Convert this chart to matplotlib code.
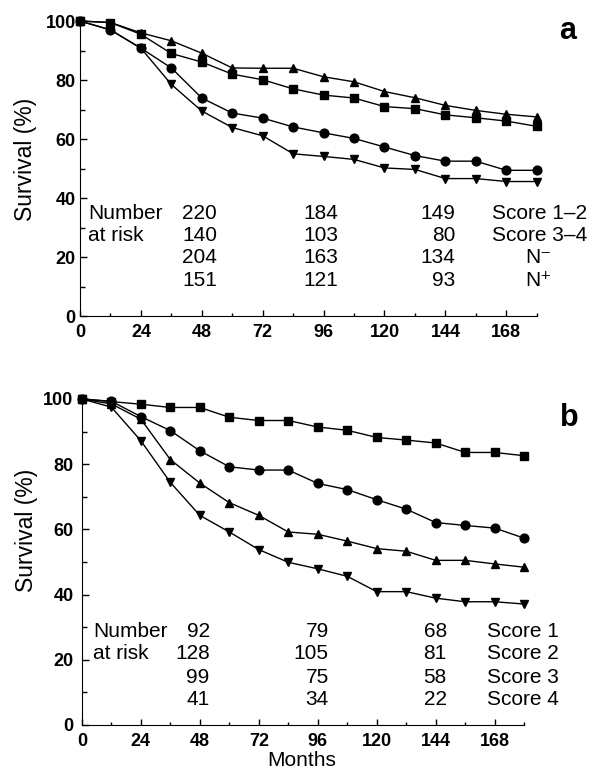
import matplotlib
matplotlib.use("Agg")
import matplotlib.pyplot as plt
import numpy as np

plt.rcParams['font.family'] = ['Liberation Sans', 'DejaVu Sans']

# %%
# data (months every 12)
months = [0, 12, 24, 36, 48, 60, 72, 84, 96, 108, 120, 132, 144, 156, 168, 180]

# panel a
a_tri_up = [100, 99.5, 96, 93.3, 89.1, 84.1, 84, 84, 81.1, 79.4, 76.1, 74, 71.4, 69.7, 68.4, 67.5]
a_square = [100, 99.5, 95.5, 89, 86.1, 82, 80.1, 77, 74.9, 73.9, 71, 70.3, 68.2, 67.2, 66.1, 64.3]
a_circle = [100, 97, 90.8, 84.1, 73.9, 68.8, 67.1, 64.1, 62.1, 60.2, 57.3, 54.4, 52.5, 52.5, 49.4, 49.4]
a_tri_dn = [100, 97, 90.8, 78.5, 69.5, 63.9, 61.1, 55, 54.1, 53.1, 50.2, 49.7, 46.6, 46.6, 45.6, 45.6]

a_risk_rows = [["220", "184", "149"],
               ["140", "103", "80"],
               ["204", "163", "134"],
               ["151", "121", "93"]]
a_groups = ["Score 1\u20132", "Score 3\u20134", "N\u207b", "N\u207a"]

# panel b
b_square = [100, 99.2, 98.4, 97.4, 97.4, 94.4, 93.4, 93.4, 91.4, 90.4, 88.2, 87.4, 86.5, 83.6, 83.6, 82.6]
b_circle = [100, 99.3, 94.6, 90.3, 84.1, 79.2, 78.2, 78.2, 74.1, 72.2, 69.1, 66.2, 62.1, 61.2, 60.4, 57.3]
b_tri_up = [100, 98.5, 93.8, 81.4, 74.2, 68.2, 64.3, 59.2, 58.5, 56.4, 54.1, 53.3, 50.5, 50.5, 49.4, 48.4]
b_tri_dn = [100, 97.5, 87.2, 74.4, 64.3, 59.2, 53.8, 49.9, 47.9, 45.6, 40.9, 40.9, 38.9, 37.8, 37.8, 37.1]

b_risk_rows = [["92", "79", "68"],
               ["128", "105", "81"],
               ["99", "75", "58"],
               ["41", "34", "22"]]
b_groups = ["Score 1", "Score 2", "Score 3", "Score 4"]

# %%

fig = plt.figure(figsize=(6.03, 7.71), dpi=100)
ax1 = fig.add_axes([0.1327, 0.5901, 0.7574, 0.3826])
ax2 = fig.add_axes([0.1358, 0.0597, 0.7335, 0.4228])

FS = 15


def style_axes(ax, ypad):
    ax.set_xlim(0, 180)
    ax.set_ylim(0, 100)
    ax.spines['top'].set_visible(False)
    ax.spines['right'].set_visible(False)
    ax.set_xticks(np.arange(0, 169, 24))
    ax.set_xticks(np.arange(12, 181, 24), minor=True)
    ax.set_yticks(np.arange(0, 101, 20))
    ax.set_yticks(np.arange(10, 100, 20), minor=True)
    ax.tick_params(axis='x', which='major', direction='in', length=4.5, width=1, labelsize=13, pad=6)
    ax.tick_params(axis='x', which='minor', direction='in', length=2.2, width=1)
    ax.tick_params(axis='y', which='major', direction='in', length=5, width=1, labelsize=13, pad=ypad)
    ax.tick_params(axis='y', which='minor', direction='in', length=3.5, width=1)
    for lab in ax.get_xticklabels() + ax.get_yticklabels():
        lab.set_fontweight('bold')


def draw(ax, series, markers):
    for y, m in zip(series, markers):
        ax.plot(months, y, color='black', linewidth=1, marker=m,
                markersize=6.3, clip_on=False, zorder=3)


# panel a
style_axes(ax1, 3)
draw(ax1, [a_tri_up, a_square, a_circle, a_tri_dn], ['^', 's', 'o', 'v'])
ya = [34.8, 27.4, 19.9, 12.2]
ax1.text(3.3, ya[0], "Number", fontsize=FS, va='center', ha='left')
ax1.text(3.3, ya[1], "at risk", fontsize=FS, va='center', ha='left')
for i in range(4):
    for val, mx in zip(a_risk_rows[i], [54, 101.8, 148]):
        ax1.text(mx, ya[i], val, fontsize=FS, va='center', ha='right')
for i in range(2):
    ax1.text(162.3, ya[i], a_groups[i], fontsize=FS, va='center', ha='left')
for i in range(2, 4):
    ax1.text(180.5, ya[i], a_groups[i], fontsize=FS, va='center', ha='center')
ax1.set_ylabel('Survival (%)', fontsize=16.5, va='center')
ax1.yaxis.set_label_coords((26 / 603 - 0.1327) / 0.7574, 0.53)

# panel b
style_axes(ax2, 6)
draw(ax2, [b_square, b_circle, b_tri_up, b_tri_dn], ['s', 'o', '^', 'v'])
yb = [28.6, 21.8, 14.6, 7.7]
ax2.text(4.7, yb[0], "Number", fontsize=FS, va='center', ha='left')
ax2.text(4.7, yb[1], "at risk", fontsize=FS, va='center', ha='left')
for i in range(4):
    for val, mx in zip(b_risk_rows[i], [52, 100.5, 148.5]):
        ax2.text(mx, yb[i], val, fontsize=FS, va='center', ha='right')
    ax2.text(164.7, yb[i], b_groups[i], fontsize=FS, va='center', ha='left')
ax2.set_ylabel('Survival (%)', fontsize=16.5, va='center')
ax2.yaxis.set_label_coords((26 / 603 - 0.1358) / 0.7335, 0.598)
ax2.set_xlabel('Months', fontsize=15, va='center')
ax2.xaxis.set_label_coords((302 / 603 - 0.1358) / 0.7335, (725 - 761) / 326)

fig.text(568 / 603, 1 - 31 / 771, 'a', fontsize=22, fontweight='bold', ha='center', va='center')
fig.text(569 / 603, 1 - 418 / 771, 'b', fontsize=22, fontweight='bold', ha='center', va='center')

fig.savefig('out.png', dpi=100)
